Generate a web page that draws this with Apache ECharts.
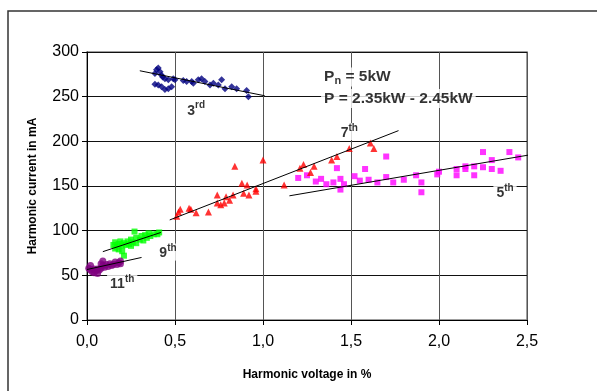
<!DOCTYPE html>
<html><head><meta charset="utf-8">
<script src="https://cdn.jsdelivr.net/npm/echarts@6/dist/echarts.min.js"></script>
<style>html,body{margin:0;padding:0;background:#fff}#c{width:597px;height:391px}</style>
</head><body><div id="c"></div>
<script>
// ---- data ----
const xTickLabels = ['0,0', '0,5', '1,0', '1,5', '2,0', '2,5'];
const yTickLabels = ['0', '50', '100', '150', '200', '250', '300'];

const h3 = [[0.386,276],[0.405,282],[0.415,278],[0.424,274],[0.443,270],[0.462,269],[0.49,270],[0.50,269],
  [0.386,264],[0.405,263],[0.424,261],[0.443,258],[0.462,259],[0.481,261],[0.395,280],[0.43,272],
  [0.547,268],[0.566,267],[0.595,267],[0.604,265],[0.632,269],[0.651,270],[0.67,267],[0.699,263],
  [0.718,265],[0.746,263],[0.765,269],[0.784,259],[0.822,261],[0.85,259],[0.907,257],[0.917,250]];

const h5 = [[1.20,159],[1.25,162],[1.30,155],[1.33,158],[1.36,152],[1.40,154],[1.42,170],[1.44,158],
  [1.44,146],[1.46,152],[1.52,161],[1.55,156],[1.58,169],[1.60,157],[1.65,154],[1.70,183],[1.70,160],
  [1.74,154],[1.80,157],[1.87,162],[1.90,154],[1.90,143],[1.99,163],[2.00,166],[2.10,162],[2.10,169],
  [2.15,172],[2.15,169],[2.20,172],[2.20,162],[2.25,188],[2.25,171],[2.30,179],[2.30,169],[2.35,167],
  [2.40,188],[2.45,182]];

const h7 = [[0.52,121],[0.51,116],[0.53,124],[0.58,125],[0.59,124],[0.62,120],[0.69,121],[0.74,140],
  [0.74,131],[0.76,129],[0.78,131],[0.79,138],[0.81,134],[0.83,140],[0.84,172],[0.88,153],[0.89,142],
  [0.91,151],[0.92,140],[0.96,147],[0.96,144],[1.00,179],[1.12,151],[1.21,170],[1.23,174],[1.27,165],
  [1.29,172],[1.39,179],[1.42,183],[1.49,192],[1.61,198],[1.63,192]];

const h9 = [[0.15,84],[0.16,80],[0.16,87],[0.17,82],[0.18,85],[0.18,79],[0.19,88],[0.20,83],[0.20,77],
  [0.21,72],[0.21,86],[0.22,84],[0.23,88],[0.24,85],[0.25,90],[0.25,83],[0.26,87],[0.27,99],[0.28,92],
  [0.28,86],[0.30,90],[0.31,94],[0.32,89],[0.33,95],[0.34,92],[0.35,97],[0.36,94],[0.38,96],[0.40,96],[0.41,98]];

const h11 = [[0.01,58],[0.02,61],[0.02,56],[0.03,54],[0.04,57],[0.04,53],[0.05,55],[0.06,52],[0.06,57],
  [0.07,56],[0.08,58],[0.08,63],[0.09,61],[0.09,66],[0.10,59],[0.11,62],[0.12,60],[0.13,63],[0.14,61],
  [0.15,62],[0.16,65],[0.17,62],[0.18,64],[0.19,66],[0.19,63]];

// trend lines (endpoints)
const trend3 = [[0.30,279],[1.01,251]];
const trend5 = [[1.15,139],[2.55,186]];
const trend7 = [[0.47,112],[1.77,212]];
const trend9 = [[0.09,76.5],[0.42,98]];
const trend11 = [[0.0,56.5],[0.31,70]];

// annotations: [x, y, text]
const labelCenters = [
  [0.62, 236, '{b|3}{s|rd}'],
  [2.375, 144, '{b|5}{s|th}'],
  [1.49, 211, '{b|7}{s|th}'],
  [0.46, 76, '{b|9}{s|th}'],
  [0.20, 42, '{b|11}{s|th}']
];
const labelLeft = [
  [1.33, 272, '{p|P}{sub|n}{p| = 5kW}'],
  [1.33, 248, '{p|P = 2.35kW - 2.45kW}']
];

// ---- chart ----
const chart = echarts.init(document.getElementById('c'), null, {renderer: 'canvas'});
const font = 'Liberation Sans, Arial, sans-serif';

function scatter(data, symbol, size, color) {
  return {type: 'scatter', data: data, symbol: symbol, symbolSize: size,
    itemStyle: {color: color}, z: 3, silent: true};
}
function trend(data) {
  return {type: 'line', data: data, symbol: 'none', lineStyle: {color: '#000', width: 1},
    z: 4, silent: true, clip: false};
}
const richBase = {
  b: {fontSize: 14, fontWeight: 'bold', fontFamily: font, color: '#000', lineHeight: 17, verticalAlign: 'bottom'},
  s: {fontSize: 10, fontWeight: 'bold', fontFamily: font, color: '#000', lineHeight: 17, verticalAlign: 'top', padding: [0,0,6,0]},
  p: {fontSize: 15.5, fontWeight: 'bold', fontFamily: font, color: '#000', lineHeight: 19},
  sub: {fontSize: 11, fontWeight: 'bold', fontFamily: font, color: '#000', lineHeight: 19, padding: [8,0,0,0]}
};

chart.setOption({
  animation: false,
  backgroundColor: '#fff',
  grid: {left: 87, right: 70, top: 52, bottom: 71, show: true, borderColor: '#808080', borderWidth: 1.5},
  xAxis: {
    type: 'value', min: 0, max: 2.5, interval: 0.5,
    name: 'Harmonic voltage in %', nameLocation: 'middle', nameGap: 49,
    nameTextStyle: {fontSize: 12, fontWeight: 'bold', fontFamily: font, color: '#000'},
    axisLine: {show: true, lineStyle: {color: '#000', width: 1}},
    axisTick: {show: true, length: 5, lineStyle: {color: '#000'}},
    axisLabel: {fontSize: 16, fontFamily: font, color: '#000', margin: 14,
      formatter: v => xTickLabels[Math.round(v / 0.5)]},
    splitLine: {show: true, lineStyle: {color: '#555', width: 1}}
  },
  yAxis: {
    type: 'value', min: 0, max: 300, interval: 50,
    name: 'Harmonic current in mA', nameLocation: 'middle', nameGap: 48,
    nameTextStyle: {fontSize: 12, fontWeight: 'bold', fontFamily: font, color: '#000'},
    axisLine: {show: true, lineStyle: {color: '#000', width: 1}},
    axisTick: {show: true, length: 5, lineStyle: {color: '#000'}},
    axisLabel: {fontSize: 16, fontFamily: font, color: '#000', margin: 8,
      formatter: v => yTickLabels[Math.round(v / 50)]},
    splitLine: {show: true, lineStyle: {color: '#111', width: 1}}
  },
  graphic: [{type: 'rect', shape: {x: 8, y: 11, width: 620, height: 420},
    style: {fill: 'none', stroke: '#333', lineWidth: 1.5}, silent: true, z: 10}],
  series: [
    scatter(h3, 'diamond', 7, '#000080'),
    scatter(h5, 'rect', 6, '#FF00FF'),
    scatter(h7, 'triangle', 7, '#FF0000'),
    scatter(h9, 'rect', 6, '#00FF00'),
    scatter(h11, 'circle', 7, '#800080'),
    trend(trend3), trend(trend5), trend(trend7), trend(trend9), trend(trend11),
    {
      type: 'scatter', symbolSize: 0, silent: true, z: 6,
      data: labelCenters.map(d => ({value: [d[0], d[1]], label: {formatter: d[2]}})),
      label: {show: true, position: 'inside', backgroundColor: '#fff', padding: [0, 3],
        rich: richBase}
    },
    {
      type: 'scatter', symbolSize: 0, silent: true, z: 6,
      data: labelLeft.map(d => ({value: [d[0], d[1]], label: {formatter: d[2]}})),
      label: {show: true, position: 'right', distance: 0, backgroundColor: '#fff', padding: [0, 3],
        rich: richBase}
    }
  ]
});
</script>
</body></html>
